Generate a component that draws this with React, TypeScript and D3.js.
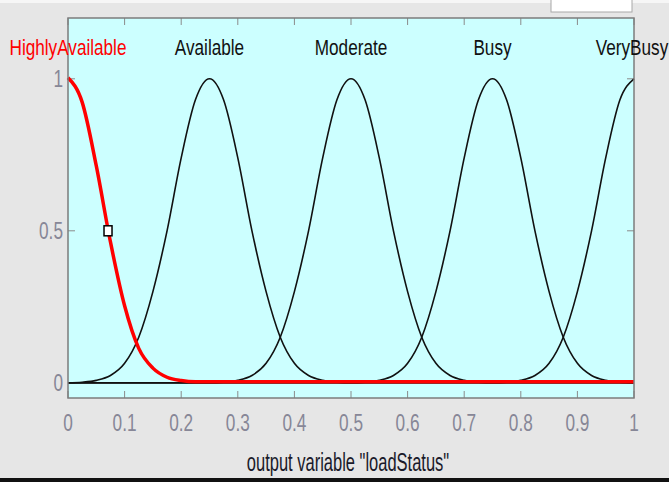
import React from 'react';
import * as d3 from 'd3';

const W = 669;
const H = 482;

// x grid of the membership functions (output variable range 0..1)
const xs = [
  0, 0.025, 0.05, 0.075, 0.1, 0.125, 0.15, 0.175, 0.2, 0.225,
  0.25, 0.275, 0.3, 0.325, 0.35, 0.375, 0.4, 0.425, 0.45, 0.475,
  0.5, 0.525, 0.55, 0.575, 0.6, 0.625, 0.65, 0.675, 0.7, 0.725,
  0.75, 0.775, 0.8, 0.825, 0.85, 0.875, 0.9, 0.925, 0.95, 0.975, 1,
];

const highlyAvailable = [
  1, 0.92, 0.71, 0.46, 0.25, 0.11, 0.045, 0.015, 0.004, 0,
  0, 0, 0, 0, 0, 0, 0, 0, 0, 0,
  0, 0, 0, 0, 0, 0, 0, 0, 0, 0,
  0, 0, 0, 0, 0, 0, 0, 0, 0, 0, 0,
];
const available = [
  0, 0.002, 0.008, 0.024, 0.064, 0.15, 0.3, 0.5, 0.74, 0.93,
  1, 0.93, 0.74, 0.5, 0.3, 0.15, 0.064, 0.024, 0.008, 0.002,
  0, 0, 0, 0, 0, 0, 0, 0, 0, 0,
  0, 0, 0, 0, 0, 0, 0, 0, 0, 0, 0,
];
const moderate = [
  0, 0, 0, 0, 0, 0, 0, 0, 0, 0,
  0, 0.002, 0.008, 0.024, 0.064, 0.15, 0.3, 0.5, 0.74, 0.93,
  1, 0.93, 0.74, 0.5, 0.3, 0.15, 0.064, 0.024, 0.008, 0.002,
  0, 0, 0, 0, 0, 0, 0, 0, 0, 0, 0,
];
const busy = [
  0, 0, 0, 0, 0, 0, 0, 0, 0, 0,
  0, 0, 0, 0, 0, 0, 0, 0, 0, 0,
  0, 0.002, 0.008, 0.024, 0.064, 0.15, 0.3, 0.5, 0.74, 0.93,
  1, 0.93, 0.74, 0.5, 0.3, 0.15, 0.064, 0.024, 0.008, 0.002, 0,
];
const veryBusy = [
  0, 0, 0, 0, 0, 0, 0, 0, 0, 0,
  0, 0, 0, 0, 0, 0, 0, 0, 0, 0,
  0, 0, 0, 0, 0, 0, 0, 0, 0, 0,
  0, 0.002, 0.008, 0.024, 0.064, 0.15, 0.3, 0.5, 0.74, 0.93, 1,
];

const mfNames = ['HighlyAvailable', 'Available', 'Moderate', 'Busy', 'VeryBusy'];
const mfCenters = [0, 0.25, 0.5, 0.75, 1];
const mfSeries = [highlyAvailable, available, moderate, busy, veryBusy];
const selectedIndex = 0;

const xTicks = [0, 0.1, 0.2, 0.3, 0.4, 0.5, 0.6, 0.7, 0.8, 0.9, 1];
const xTickLabels = ['0', '0.1', '0.2', '0.3', '0.4', '0.5', '0.6', '0.7', '0.8', '0.9', '1'];
const yTicks = [0, 0.5, 1];
const yTickLabels = ['0', '0.5', '1'];
const xLabel = 'output variable "loadStatus"';
const markerPoint = { x: 0.0707, y: 0.5 };

const FONT = '"Liberation Sans", Arial, Helvetica, sans-serif';

function SText(props: {
  x: number; y: number; sx: number; size: number; fill: string;
  anchor?: 'start' | 'middle' | 'end'; children: React.ReactNode;
}) {
  const { x, y, sx, size, fill, anchor = 'middle', children } = props;
  return (
    <text
      transform={`translate(${x},${y}) scale(${sx},1)`}
      textAnchor={anchor}
      fontFamily={FONT}
      fontSize={size}
      fill={fill}
    >
      {children}
    </text>
  );
}

export default function App() {
  const left = 68, right = 634, top = 18, bottom = 398;
  const x = d3.scaleLinear().domain([0, 1]).range([left, right]);
  const y = d3.scaleLinear().domain([-0.05, 1.2]).range([bottom, top]);
  const line = d3
    .line<number>()
    .x((_, i) => x(xs[i]))
    .y((d) => y(d))
    .curve(d3.curveMonotoneX);

  const tickLen = 7;
  const tickColor = '#8a8a8a';
  const labelColor = '#878797';

  return (
    <svg
      width={W}
      height={H}
      viewBox={`0 0 ${W} ${H}`}
      style={{ position: 'absolute', left: 0, top: 0, display: 'block' }}
    >
      <rect x={0} y={0} width={W} height={H} fill="#e6e6e6" />
      <rect x={0} y={0} width={W} height={3} fill="#f6f6f6" />
      <rect x={551} y={-1} width={81} height={13} fill="#ffffff" stroke="#a8a8a8" strokeWidth={1} />
      <rect x={0} y={478} width={W} height={4} fill="#111111" />

      {/* plot area */}
      <rect x={left} y={top} width={right - left} height={bottom - top} fill="#ccffff" />

      {/* ticks */}
      {xTicks.map((t, i) => (
        <g key={`xt${i}`}>
          <line x1={x(t)} x2={x(t)} y1={bottom} y2={bottom - tickLen} stroke={tickColor} strokeWidth={1} />
          <line x1={x(t)} x2={x(t)} y1={top} y2={top + tickLen} stroke={tickColor} strokeWidth={1} />
        </g>
      ))}
      {yTicks.map((t, i) => (
        <g key={`yt${i}`}>
          <line x1={left} x2={left + tickLen} y1={y(t)} y2={y(t)} stroke={tickColor} strokeWidth={1} />
          <line x1={right} x2={right - tickLen} y1={y(t)} y2={y(t)} stroke={tickColor} strokeWidth={1} />
        </g>
      ))}

      {/* membership functions */}
      {mfSeries.map((s, i) =>
        i === selectedIndex ? null : (
          <path key={`mf${i}`} d={line(s) || ''} fill="none" stroke="#111111" strokeWidth={1.6} />
        )
      )}
      <path
        d={line(mfSeries[selectedIndex]) || ''}
        transform="translate(0,-1)"
        fill="none"
        stroke="#ff0000"
        strokeWidth={3.5}
      />
      <rect
        x={x(markerPoint.x) - 4}
        y={y(markerPoint.y) - 5}
        width={8}
        height={10}
        fill="#ffffff"
        stroke="#000000"
        strokeWidth={1.5}
      />

      {/* border */}
      <rect x={left} y={top} width={right - left} height={bottom - top} fill="none" stroke="#7c7c7c" strokeWidth={1.5} />

      {/* MF labels */}
      {mfNames.map((n, i) => (
        <SText
          key={`lab${i}`}
          x={x(mfCenters[i]) - (i === 4 ? 2 : 0)}
          y={55}
          sx={0.78}
          size={22}
          fill={i === selectedIndex ? '#ff0000' : '#111111'}
        >
          {n}
        </SText>
      ))}

      {/* tick labels */}
      {xTicks.map((t, i) => (
        <SText key={`xl${i}`} x={x(t)} y={431} sx={0.75} size={23} fill={labelColor}>
          {xTickLabels[i]}
        </SText>
      ))}
      {yTicks.map((t, i) => (
        <SText key={`yl${i}`} x={63} y={y(t) + 8} sx={0.75} size={23} fill={labelColor} anchor="end">
          {yTickLabels[i]}
        </SText>
      ))}

      <SText x={348} y={471} sx={0.66} size={25} fill="#1a1a2a">
        {xLabel}
      </SText>
    </svg>
  );
}
